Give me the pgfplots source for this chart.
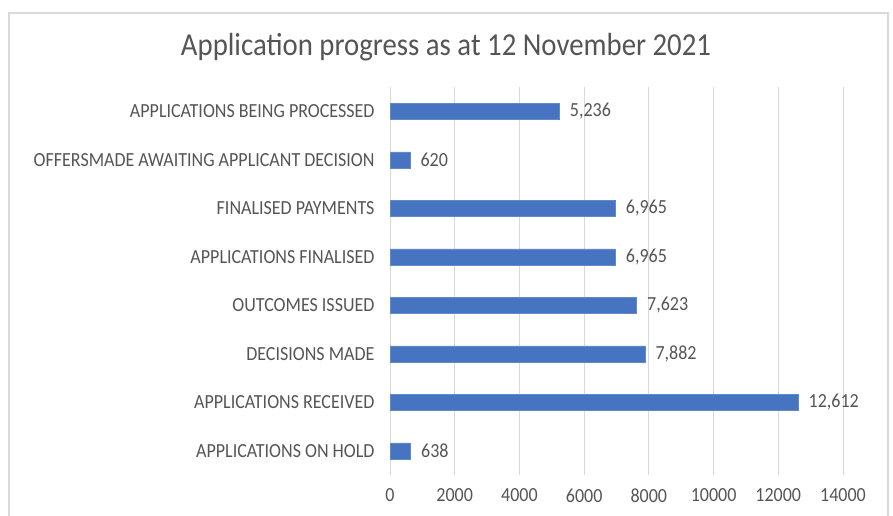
\documentclass[border=0pt]{standalone}
\usepackage{fontspec}
\setmainfont{Carlito}
\newfontfamily\cf[FakeStretch=0.9]{Carlito}
\usepackage{pgfplots}
\pgfplotsset{compat=1.18}
\definecolor{barblue}{HTML}{4674C1}
\definecolor{txtgray}{HTML}{555555}
\definecolor{gridgray}{HTML}{D9D9D9}
\newcommand{\lbl}{\cf\fontsize{20}{22}\selectfont}
\begin{document}
\begin{tikzpicture}
\path[use as bounding box] (0,0) rectangle (893pt,515pt);
% chart frame
\draw[gridgray, line width=1.2pt] (9pt,-5pt) -- (9pt,502pt) -- (888pt,502pt) -- (888pt,-5pt);
\node[text=txtgray, font=\cf\fontsize{32}{35}\selectfont] at (446pt,468pt) {Application progress as at 12 November 2021};
\begin{axis}[
    at={(390pt,40pt)}, anchor=south west,
    scale only axis, width=453pt, height=388pt,
    xbar, bar width=16pt,
    xmin=0, xmax=14000,
    ymin=-0.5, ymax=7.5,
    xtick={0,2000,...,14000},
    ytick={0,...,7},
    yticklabels={APPLICATIONS ON HOLD, APPLICATIONS RECEIVED, DECISIONS MADE, OUTCOMES ISSUED, APPLICATIONS FINALISED, FINALISED PAYMENTS, OFFERSMADE AWAITING APPLICANT DECISION, APPLICATIONS BEING PROCESSED},
    scaled ticks=false,
    axis line style={draw=none},
    major tick length=0pt,
    xmajorgrids=true,
    grid style={gridgray, line width=0.8pt},
    /pgf/number format/assume math mode=true,
    xticklabel style={text=txtgray, font=\lbl, /pgf/number format/1000 sep={}, yshift=-10pt},
    yticklabel style={text=txtgray, font=\lbl, xshift=-12pt},
    nodes near coords,
    point meta=x,
    nodes near coords style={text=txtgray, font=\lbl, anchor=west, xshift=7pt,
        /pgf/number format/.cd, fixed, precision=0, 1000 sep={,}, assume math mode=true},
]
\addplot[fill=barblue, draw=barblue!85!white] coordinates {
    (638,0) (12612,1) (7882,2) (7623,3) (6965,4) (6965,5) (620,6) (5236,7)};
\end{axis}
\end{tikzpicture}
\end{document}
